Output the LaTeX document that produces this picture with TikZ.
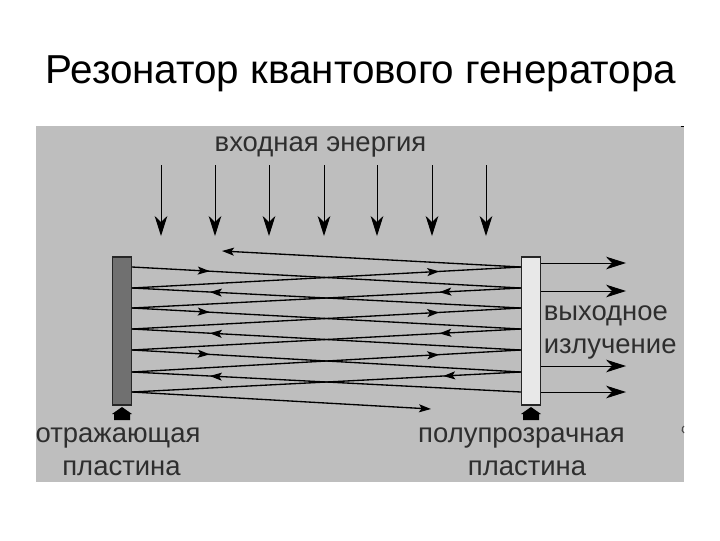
\documentclass[tikz,border=0pt]{standalone}
\usepackage{fontspec}
\setmainfont{Liberation Sans}
\usetikzlibrary{arrows.meta,decorations.markings}
\definecolor{bggray}{HTML}{BEBEBE}
\definecolor{inkgray}{HTML}{2E2E2E}
\tikzset{
  plate/.style={draw=black!85,line width=1.2pt,minimum width=14.5pt,minimum height=111pt,inner sep=0pt},
  caption/.style={inner sep=0pt,text=inkgray,font=\fontsize{20.6}{24}\selectfont},
  bigtip/.style={-{Stealth[length=15pt,width=9.5pt,inset=4.5pt]},line width=.75pt},
  ray/.style={line width=1pt,postaction={decorate},decoration={markings,mark=at position #1 with {\arrow{Stealth[length=9pt,width=6pt,inset=2pt]}}}},
  rayend/.style={line width=1pt,-{Stealth[length=9pt,width=6pt,inset=2pt]}},
}
\begin{document}
\begin{tikzpicture}[x=.75pt,y=-.75pt]
\useasboundingbox (0,0) rectangle (720,540);
\fill[white] (0,0) rectangle (720,540);
\fill[bggray] (36,126) rectangle (684,482);

\node[anchor=base west,inner sep=0pt,font=\fontsize{30.3}{36}\selectfont] (title) at (45,83) {Резонатор квантового генератора};

% пластины
\node[plate,fill=black!56] (lplate) at (122,331) {};
\node[plate,fill=black!9] (rplate) at (531,331) {};

% подставки
\foreach \n/\x in {lbase/122,rbase/531}{
  \fill[black] (\x-10,414) -- (\x,407) -- (\x+10,414) -- (\x+8,414) -- (\x+8,420) -- (\x-8,420) -- (\x-8,414) -- cycle;
  \coordinate (\n) at (\x,414);
}

% входная энергия
\node[caption,anchor=base] (inlabel) at (320.5,151) {входная энергия};
\foreach \x [count=\i] in {161,215,269,324,377,432,486}{
  \coordinate (a\i) at (\x,165);
  \coordinate (b\i) at (\x,236);
  \draw[bigtip] (a\i) -- (b\i);
}

% точки отражения на пластинах
\foreach \y [count=\i] in {267,288,308,329,350,372,392}{
  \coordinate (l\i) at (132,\y);
  \coordinate (r\i) at (521,\y);
}
\coordinate (topend) at (222,251);
\coordinate (lowend) at (431,409);

%луч сверху вниз
\draw[ray=.2] (l1) -- (r2);
\draw[ray=.21] (r2) -- (l3);
\draw[ray=.2] (l3) -- (r4);
\draw[ray=.21] (r4) -- (l5);
\draw[ray=.2] (l5) -- (r6);
\draw[ray=.2] (r6) -- (l7);
\draw[rayend] (l7) -- (lowend);
%луч снизу вверх
\draw[ray=.8] (r7) -- (l6);
\draw[ray=.79] (l6) -- (r5);
\draw[ray=.8] (r5) -- (l4);
\draw[ray=.79] (l4) -- (r3);
\draw[ray=.8] (r3) -- (l2);
\draw[ray=.79] (l2) -- (r1);
\draw[rayend] (r1) -- (topend);

% выходное излучение
\foreach \y [count=\i] in {263,291,366,392}{
  \coordinate (o\i) at (rplate.east |- 0,\y);
  \coordinate (e\i) at (626,\y);
  \draw[bigtip] (o\i) -- (e\i);
}

\node[caption,anchor=base west] (outa) at (543.5,320) {выходное};
\node[caption,anchor=base west] (outb) at (543.5,353) {излучение};
\node[caption,anchor=base] (lefta) at (118,442) {отражающая};
\node[caption,anchor=base] (leftb) at (121.5,475) {пластина};
\node[caption,anchor=base] (righta) at (521.5,442) {полупрозрачная};
\node[caption,anchor=base] (rightb) at (527,475) {пластина};

% обрывки у правого края
\draw[black,line width=1pt] (681,126.5) -- (684,126.5);
\draw[black!70,line width=.8pt] (684,433) arc[start angle=120,end angle=240,radius=4];
\end{tikzpicture}
\end{document}
